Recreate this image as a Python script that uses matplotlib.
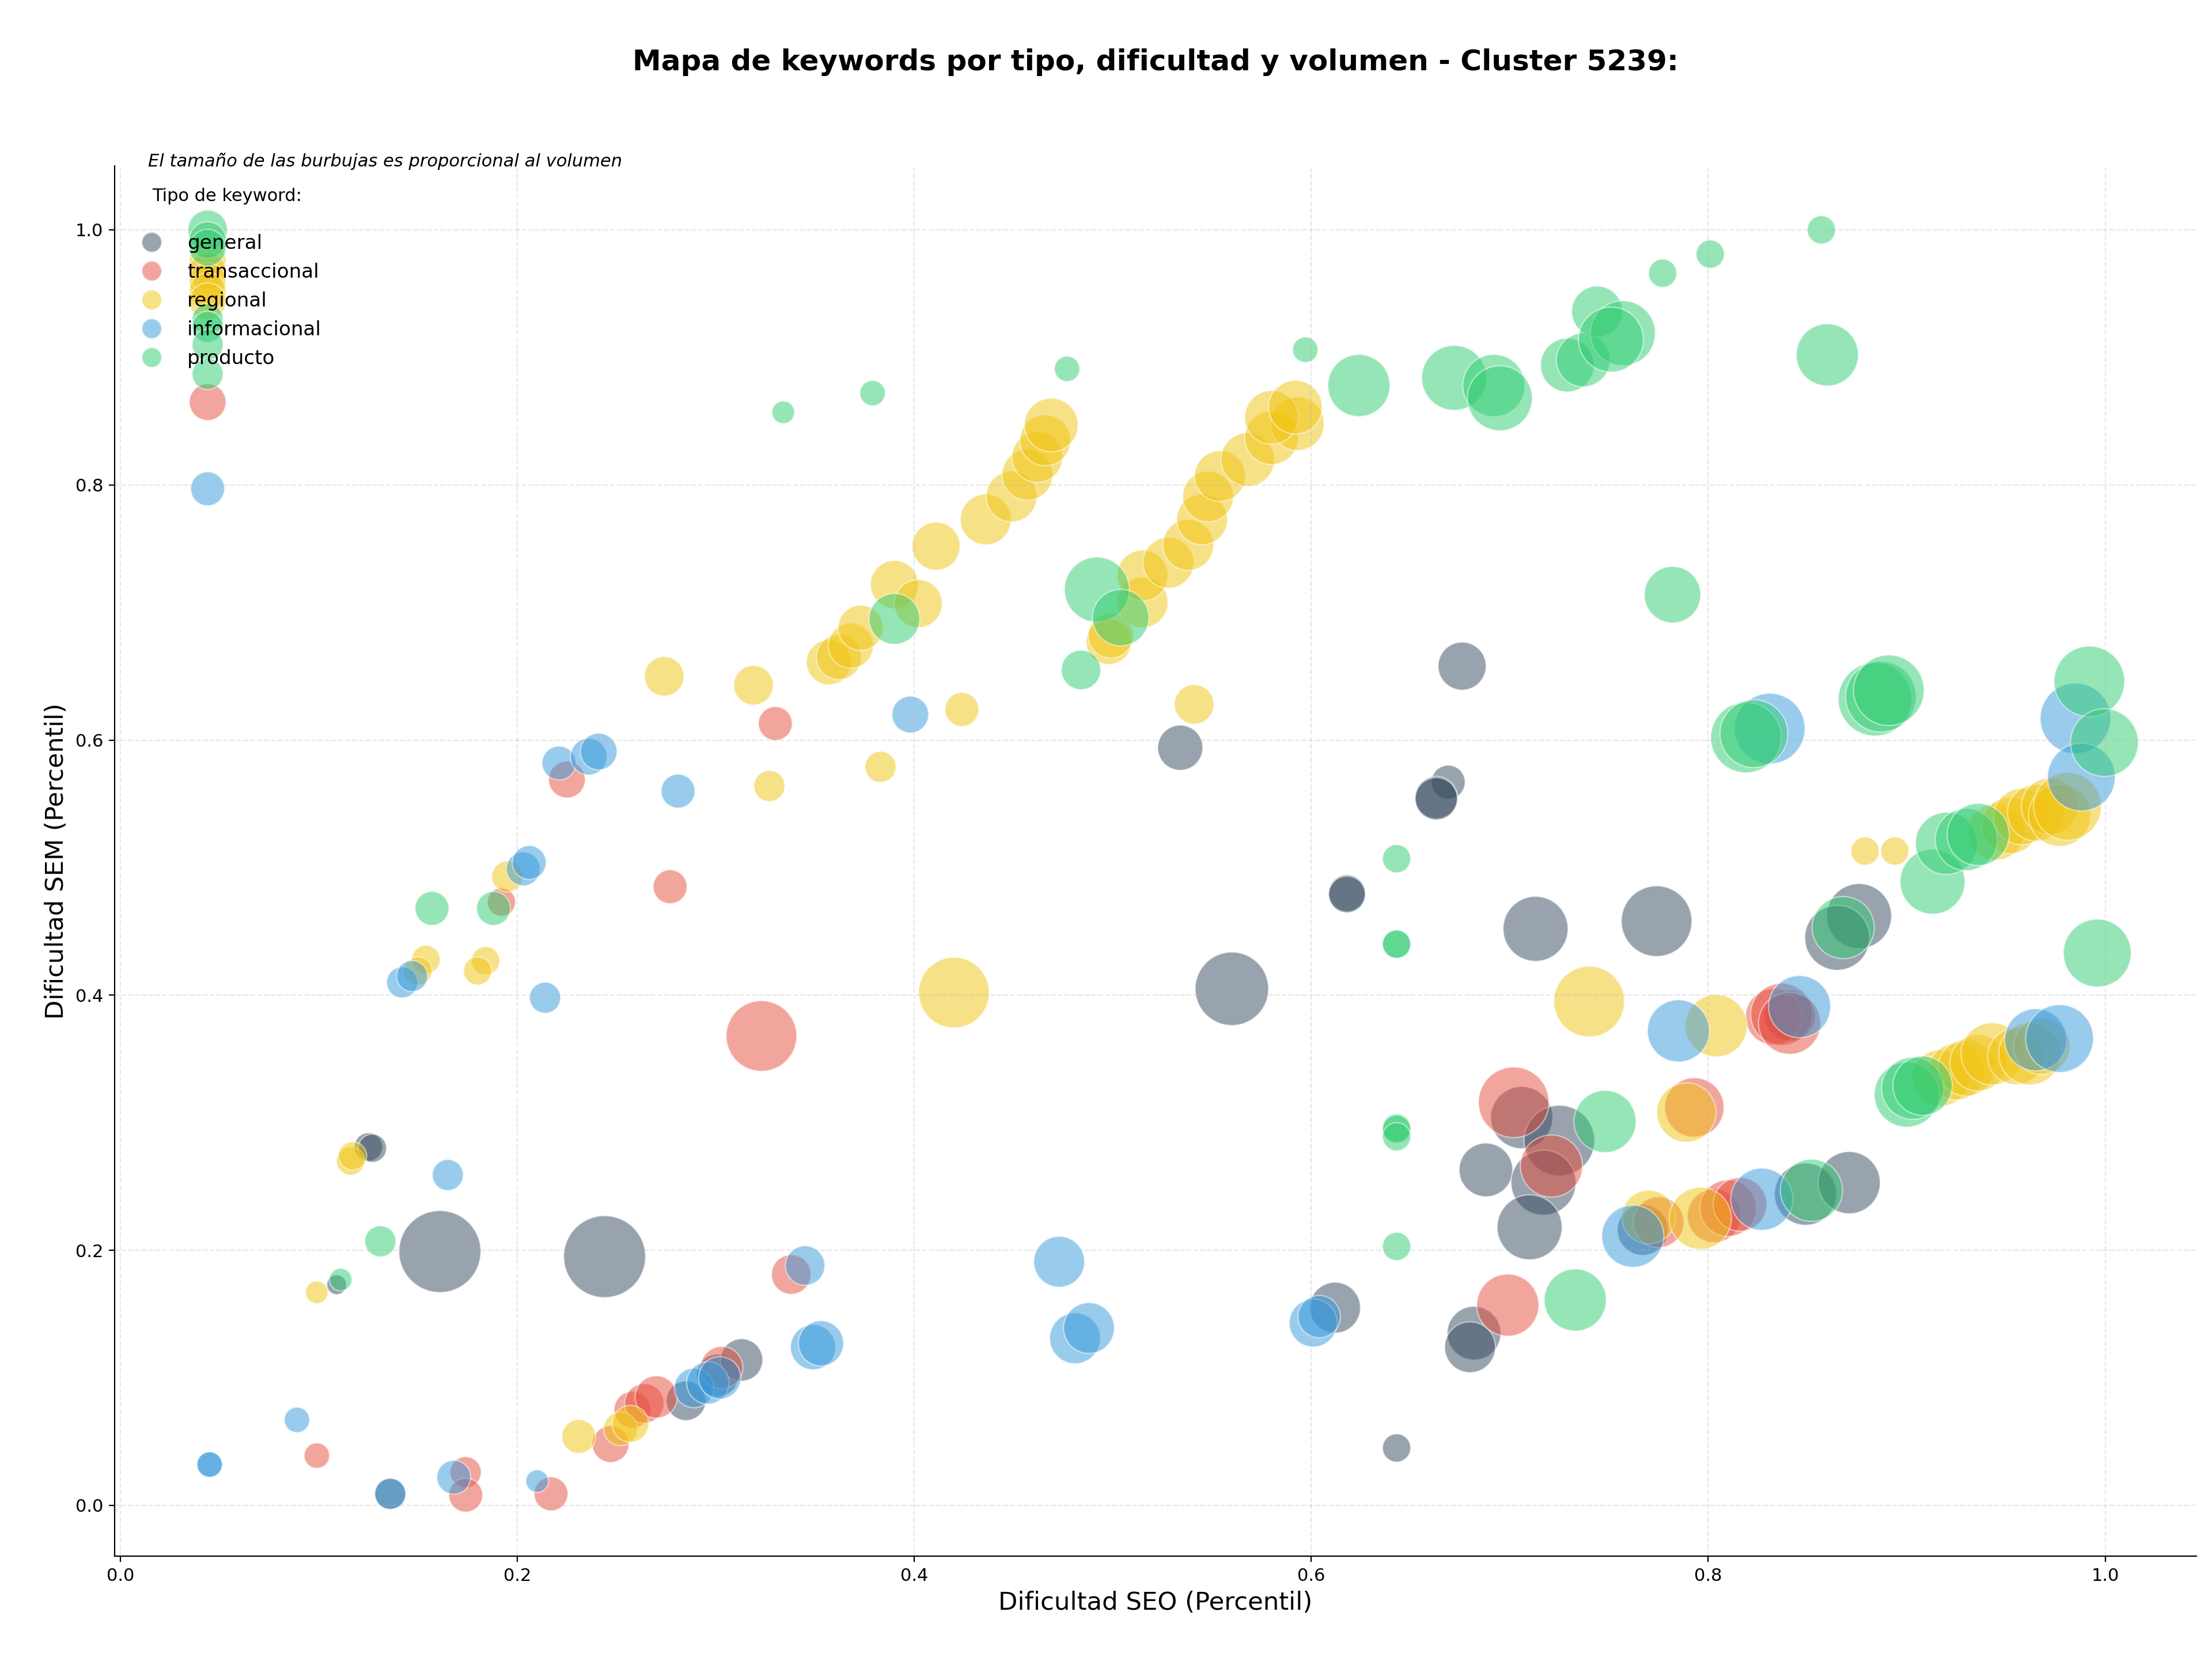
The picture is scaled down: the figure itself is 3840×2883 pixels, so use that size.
import numpy as np
import matplotlib.pyplot as plt
from matplotlib.lines import Line2D

# datos: dificultad SEO (x), dificultad SEM (y), volumen

tipos = ['general', 'transaccional', 'regional', 'informacional', 'producto']
colores = ['#34495E', '#E74C3C', '#F1C40F', '#3498DB', '#2ECC71']

general_seo = [0.125, 0.127, 0.109, 0.161, 0.244, 0.136, 0.285, 0.301, 0.313, 0.534,
               0.560, 0.618, 0.618, 0.669, 0.663, 0.663, 0.676, 0.713, 0.774, 0.612,
               0.643, 0.706, 0.725, 0.688, 0.717, 0.710, 0.682, 0.680, 0.767, 0.849,
               0.871, 0.876, 0.865, 0.841]
general_sem = [0.281, 0.280, 0.173, 0.199, 0.195, 0.009, 0.082, 0.102, 0.114, 0.594,
               0.405, 0.480, 0.479, 0.567, 0.555, 0.554, 0.658, 0.452, 0.458, 0.155,
               0.045, 0.304, 0.286, 0.263, 0.253, 0.218, 0.135, 0.124, 0.216, 0.244,
               0.253, 0.462, 0.445, 0.384]
general_vol = [1000, 1000, 490, 8410, 8410, 1210, 1960, 2250, 2250, 2560,
               6760, 1690, 1690, 1440, 2250, 2250, 2890, 5290, 6250, 3240,
               1000, 4840, 6250, 3610, 5290, 5290, 3610, 3240, 3240, 4840,
               4840, 5290, 5290, 3240]

trans_seo = [0.044, 0.099, 0.174, 0.174, 0.217, 0.247, 0.258, 0.264, 0.270, 0.303,
             0.338, 0.192, 0.225, 0.277, 0.330, 0.323, 0.702, 0.721, 0.699, 0.793,
             0.775, 0.803, 0.810, 0.816, 0.833, 0.837, 0.841]
trans_sem = [0.865, 0.039, 0.026, 0.008, 0.009, 0.048, 0.075, 0.080, 0.085, 0.108,
             0.181, 0.473, 0.569, 0.485, 0.613, 0.368, 0.316, 0.266, 0.157, 0.312,
             0.222, 0.227, 0.233, 0.236, 0.383, 0.385, 0.378]
trans_vol = [1690, 810, 1210, 1440, 1440, 1690, 1690, 1960, 2250, 2250,
             1960, 1000, 1690, 1440, 1440, 6250, 6250, 4840, 4840, 4410,
             3240, 3610, 4000, 3610, 4000, 4840, 4840]

regional_seo = [0.044, 0.044, 0.044, 0.044, 0.044, 0.099, 0.116, 0.117,
                0.154, 0.150, 0.184, 0.180, 0.195, 0.231, 0.252, 0.257,
                0.274, 0.319, 0.327, 0.383, 0.424, 0.420,
                0.357, 0.362, 0.368, 0.373, 0.390, 0.402, 0.411, 0.436, 0.449,
                0.457, 0.462, 0.466, 0.469,
                0.498, 0.499, 0.515, 0.515, 0.528, 0.538, 0.545, 0.548, 0.554,
                0.568, 0.580, 0.593, 0.580, 0.592,
                0.541, 0.740, 0.804, 0.789, 0.770, 0.796, 0.879, 0.894,
                0.917, 0.925, 0.930, 0.936, 0.943, 0.955, 0.962, 0.968,
                0.945, 0.952, 0.958, 0.965, 0.972, 0.977, 0.981]
regional_sem = [0.976, 0.968, 0.960, 0.952, 0.944, 0.167, 0.270, 0.274,
                0.428, 0.419, 0.427, 0.419, 0.493, 0.054, 0.060, 0.064,
                0.650, 0.643, 0.564, 0.579, 0.624, 0.402,
                0.661, 0.665, 0.674, 0.688, 0.722, 0.707, 0.752, 0.773, 0.791,
                0.808, 0.822, 0.835, 0.847,
                0.677, 0.682, 0.708, 0.729, 0.739, 0.753, 0.773, 0.791, 0.807,
                0.820, 0.837, 0.848, 0.853, 0.861,
                0.628, 0.395, 0.376, 0.308, 0.226, 0.225, 0.513, 0.513,
                0.335, 0.340, 0.343, 0.347, 0.354, 0.352, 0.354, 0.360,
                0.528, 0.533, 0.540, 0.543, 0.548, 0.541, 0.548]
regional_vol = [1690, 1690, 1690, 1690, 1690, 640, 1000, 1000,
                1000, 1000, 1000, 1000, 1210, 1440, 1440, 1690,
                1960, 1960, 1210, 1210, 1440, 6250,
                2560, 2560, 2560, 2560, 2890, 2890, 2890, 3240, 3240,
                3240, 3240, 3240, 3610,
                2560, 2560, 3240, 3240, 3240, 3240, 3240, 3240, 3240,
                3610, 3610, 3610, 3610, 3610,
                1960, 6250, 4840, 4410, 3610, 4840, 1000, 1000,
                4000, 4000, 4000, 4000, 4840, 4000, 4840, 4000,
                4000, 4000, 4000, 4000, 4000, 4840, 5760]

info_seo = [0.044, 0.045, 0.045, 0.089, 0.136, 0.168, 0.210, 0.165, 0.142, 0.147,
            0.214, 0.203, 0.206, 0.221, 0.236, 0.241, 0.281, 0.398, 0.289, 0.296,
            0.302, 0.345, 0.349, 0.353, 0.473, 0.481, 0.488, 0.601, 0.604, 0.762,
            0.785, 0.827, 0.846, 0.831, 0.985, 0.988, 0.965, 0.977]
info_sem = [0.797, 0.032, 0.032, 0.067, 0.009, 0.022, 0.019, 0.259, 0.410, 0.415,
            0.398, 0.499, 0.504, 0.582, 0.587, 0.591, 0.560, 0.620, 0.092, 0.096,
            0.100, 0.188, 0.124, 0.127, 0.191, 0.131, 0.139, 0.143, 0.148, 0.211,
            0.372, 0.240, 0.391, 0.609, 0.617, 0.571, 0.365, 0.366]
info_vol = [1440, 810, 810, 810, 1210, 1440, 640, 1210, 1210, 1210,
            1210, 1440, 1440, 1440, 1690, 1690, 1440, 1690, 1960, 2250,
            2250, 1960, 2560, 2560, 3240, 3240, 3240, 2890, 2250, 4840,
            4840, 4840, 4840, 6250, 6250, 5760, 4840, 5760]

prod_seo = [0.044, 0.044, 0.044, 0.044, 0.044, 0.044, 0.044,
            0.111, 0.131, 0.157, 0.188,
            0.334, 0.379, 0.477, 0.597,
            0.390,
            0.492, 0.504, 0.484,
            0.624, 0.672, 0.692, 0.695,
            0.729, 0.737, 0.744, 0.757, 0.751,
            0.777, 0.801, 0.857, 0.860,
            0.782,
            0.643, 0.643, 0.643, 0.643, 0.643, 0.643, 0.643,
            0.748, 0.733, 0.852, 0.868,
            0.819, 0.823,
            0.884, 0.887, 0.891,
            0.913,
            0.992, 0.9996, 0.996,
            0.920, 0.930, 0.936,
            0.900, 0.903, 0.908]
prod_sem = [1.000, 0.992, 0.986, 0.930, 0.924, 0.910, 0.887,
            0.177, 0.207, 0.468, 0.468,
            0.857, 0.872, 0.891, 0.906,
            0.695,
            0.718, 0.696, 0.655,
            0.878, 0.884, 0.878, 0.868,
            0.894, 0.898, 0.936, 0.919, 0.914,
            0.966, 0.981, 1.000, 0.902,
            0.714,
            0.507, 0.440, 0.440, 0.296, 0.295, 0.289, 0.203,
            0.301, 0.161, 0.247, 0.453,
            0.602, 0.605,
            0.632, 0.634, 0.639,
            0.489,
            0.646, 0.598, 0.433,
            0.519, 0.522, 0.526,
            0.322, 0.327, 0.329]
prod_vol = [1960, 1690, 1690, 1210, 1210, 1210, 1210,
            640, 1210, 1440, 1440,
            640, 810, 810, 810,
            3240,
            5290, 4000, 1960,
            4840, 5290, 4840, 5290,
            3610, 3610, 3240, 5290, 5290,
            1000, 1000, 1000, 4840,
            4000,
            1000, 1000, 1000, 1000, 1000, 1000, 1000,
            4840, 4840, 4840, 4840,
            6250, 5760,
            6760, 6250, 6250,
            5290,
            6250, 5760, 5760,
            4840, 4840, 4840,
            5290, 4840, 4410]

series = [(general_seo, general_sem, general_vol),
          (trans_seo, trans_sem, trans_vol),
          (regional_seo, regional_sem, regional_vol),
          (info_seo, info_sem, info_vol),
          (prod_seo, prod_sem, prod_vol)]

escala = 0.311  # volumen -> area del marcador

fig, ax = plt.subplots(figsize=(19.2, 14.415))
fig.subplots_adjust(left=0.0517, right=0.993, top=0.900, bottom=0.063)

for (sx, sy, sv), tipo, col in zip(series, tipos, colores):
    ax.scatter(sx, sy, s=np.array(sv) * escala, c=col, alpha=0.5,
               edgecolors='white', linewidths=0.8, label=tipo)

ax.set_xlim(-0.003, 1.046)
ax.set_ylim(-0.04, 1.05)
ax.set_xlabel('Dificultad SEO (Percentil)', fontsize=15.6)
ax.set_ylabel('Dificultad SEM (Percentil)', fontsize=15.6)
ax.tick_params(labelsize=11)
ax.set_title('Mapa de keywords por tipo, dificultad y volumen - Cluster 5239:',
             fontsize=18, fontweight='bold', pad=60)
ax.grid(True, linestyle='--', alpha=0.3)
ax.spines['top'].set_visible(False)
ax.spines['right'].set_visible(False)

handles = [Line2D([0], [0], marker='o', linestyle='', markersize=12.5,
                  markerfacecolor=c, markeredgecolor='white', alpha=0.5)
           for c in colores]
leg = ax.legend(handles, tipos, loc='upper left', frameon=False, fontsize=12.3,
                title='Tipo de keyword:\n', title_fontsize=11,
                bbox_to_anchor=(0.0, 0.997))
ax.text(0.0163, 1.0036, 'El tamaño de las burbujas es proporcional al volumen',
        transform=ax.transAxes, fontsize=11, style='italic', va='center')

plt.savefig('out.png', dpi=200)
print('plot done')
